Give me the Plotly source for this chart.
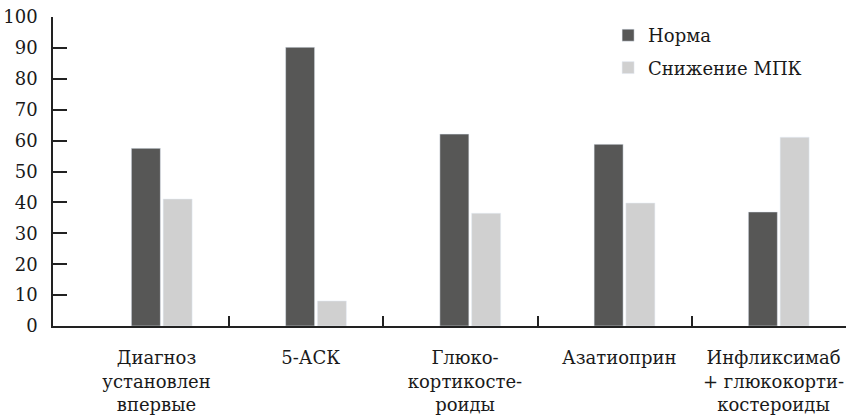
import plotly.graph_objects as go

categories = ["Диагноз<br>установлен<br>впервые", "5-АСК", "Глюко-<br>кортикосте-<br>роиды",
              "Азатиоприн", "Инфликсимаб<br>+ глюкокорти-<br>костероиды"]
norma = [57.5, 90.2, 62.1, 58.8, 36.9]
snizh = [41.1, 8.1, 36.5, 39.8, 61.1]
y_ticks = list(range(0, 101, 10))

FONT = "DejaVu Serif"
FS = 18
x_idx = list(range(len(categories)))

fig = go.Figure()
fig.add_trace(go.Bar(x=x_idx, y=norma, name="Норма", marker_color="#575756",
                     width=0.188, offset=-0.133, legendgroup="a"))
fig.add_trace(go.Bar(x=x_idx, y=snizh, name="Снижение МПК", marker_color="#d0d0d0",
                     width=0.188, offset=0.073, legendgroup="b"))
fig.add_trace(go.Scatter(x=[0], y=[0], xaxis="x2", mode="markers",
                         marker=dict(opacity=0), showlegend=False, hoverinfo="skip"))

rng = [-0.641, 4.5]
fig.update_layout(
    width=853, height=419,
    margin=dict(l=53, r=7, t=17, b=93, autoexpand=False),
    paper_bgcolor="white", plot_bgcolor="white",
    barmode="overlay",
    font=dict(family=FONT, size=FS, color="#1a1a1a"),
    showlegend=True,
    legend=dict(x=0.700, y=1.0, xanchor="left", yanchor="top",
                tracegroupgap=6, font=dict(family=FONT, size=FS),
                bgcolor="rgba(0,0,0,0)", itemwidth=30),
    xaxis=dict(range=rng, tickvals=[i + 0.03 for i in x_idx], ticktext=categories,
               ticks="", showline=True, linecolor="#222", linewidth=1.5,
               showgrid=False, zeroline=False, ticklabelstandoff=15, automargin=False,
               tickfont=dict(family=FONT, size=FS)),
    xaxis2=dict(range=rng, overlaying="x", anchor="y", side="bottom",
                tickvals=[0.5, 1.5, 2.5, 3.5, 4.5], ticks="inside", ticklen=10,
                tickwidth=1.5, tickcolor="#222", showticklabels=False,
                showline=False, showgrid=False, zeroline=False, automargin=False),
    yaxis=dict(range=[0, 100], tickvals=y_ticks, ticks="inside", ticklen=14,
               tickwidth=1.5, tickcolor="#222", showline=True, linecolor="#222",
               linewidth=1.5, showgrid=False, zeroline=False, ticklabelstandoff=10,
               automargin=False, tickfont=dict(family=FONT, size=FS)),
)
fig.write_html("out.html", post_script="document.body.style.margin='0';",
               config={"displayModeBar": False})
